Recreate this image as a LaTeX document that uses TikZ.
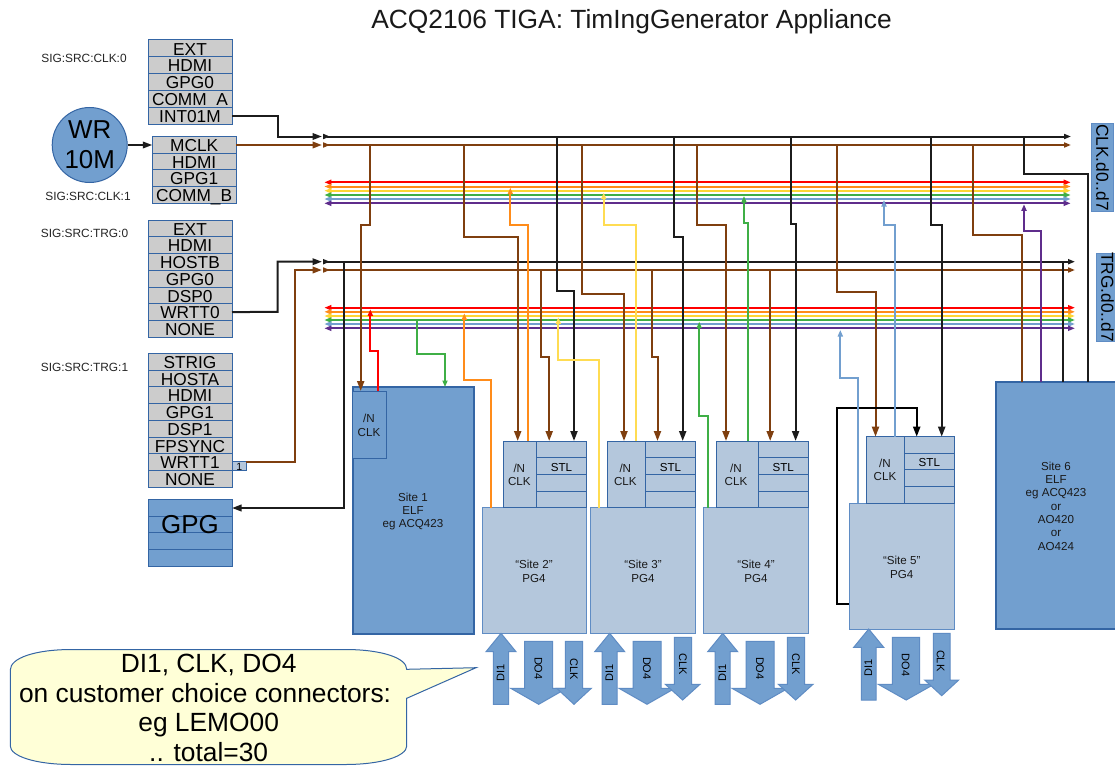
\documentclass[tikz,border=0pt]{standalone}
\usepackage{fontspec}
\setmainfont{Liberation Sans}
\usetikzlibrary{arrows.meta}
\definecolor{boxblue}{HTML}{729FCF}
\definecolor{lineblue}{HTML}{3465A4}
\definecolor{paleblue}{HTML}{B4C7DC}
\definecolor{edgeblue}{HTML}{5F8CC4}
\definecolor{cellgrey}{HTML}{CCCCCC}
\definecolor{noteyellow}{HTML}{FFFFD7}
\definecolor{wbrown}{HTML}{7F3F0F}
\definecolor{wblack}{HTML}{1C1C1C}
\definecolor{wred}{HTML}{FF0000}
\definecolor{worange}{HTML}{FF8C1A}
\definecolor{wyellow}{HTML}{FFD633}
\definecolor{wgreen}{HTML}{3FAF46}
\definecolor{wblue}{HTML}{729FCF}
\definecolor{wpurple}{HTML}{5F2D8C}
\tikzset{
  fbig/.style={font=\fontsize{25.9}{29.6}\selectfont},
  fhead/.style={font=\fontsize{26.35}{29.6}\selectfont},
  fmid/.style={font=\fontsize{17.3}{19.9}\selectfont},
  fsmall/.style={font=\fontsize{11.6}{13.35}\selectfont},
  wire/.style={line width=2pt,line join=miter},
  bigtip/.style={-{Triangle[length=10pt,width=7pt]}},
  smalltip/.style={-{Triangle[length=6.5pt,width=5pt]}},
  feedtip/.style={-{Triangle[length=9.5pt,width=6.5pt]}},
  bustips/.style={{Triangle[reversed,length=7pt,width=5pt]}-{Triangle[length=7pt,width=5pt]}},
  railtips/.style={{Triangle[length=7pt,width=5pt]}-{Triangle[length=7pt,width=5pt]}},
  greycell/.style={draw=lineblue,fill=cellgrey,line width=1pt,inner sep=0pt,outer sep=0pt,fmid,text height=13.5pt,text depth=0pt},
  gpgcell/.style={draw=lineblue,fill=boxblue,line width=1pt,inner sep=0pt,outer sep=0pt},
  palecell/.style={draw=lineblue,fill=paleblue,line width=1pt,inner sep=0pt,outer sep=0pt,fsmall,text height=10.3pt,text depth=0pt},
  paleblock/.style={draw=edgeblue,fill=paleblue,line width=1pt,inner sep=0pt,outer sep=0pt},
  elfblock/.style={draw=lineblue,fill=boxblue,line width=2pt,inner sep=0pt,outer sep=0pt},
  elfcell/.style={draw=lineblue,fill=boxblue,line width=1pt,inner sep=0pt,outer sep=0pt},
  tag/.style={draw=edgeblue,fill=boxblue,line width=1pt,inner sep=0pt,outer sep=0pt},
  ioarrow/.style={draw=edgeblue,fill=boxblue,line width=1pt,line join=miter},
  iotext/.style={inner sep=0pt,font=\fontsize{11}{13}\selectfont},
  sigtext/.style={inner sep=0pt,font=\fontsize{11.9}{13}\selectfont,text=black!85},
  plain/.style={inner sep=0pt,align=center,text=black!90},
}
% box from corner to corner: name, x1, y1, x2, y2, style, text
\newcommand{\cellbox}[7]{%
  \pgfmathsetmacro{\cbw}{#4-#2}\pgfmathsetmacro{\cbh}{#5-#3}%
  \node[#6,minimum width=\cbw pt,minimum height=\cbh pt] (#1) at ({(#2+#4)/2},{(#3+#5)/2}) {#7};}
% column of rows: name, x1, x2, y1, row height, style, list
\newcommand{\rowtable}[7]{%
  \foreach \rowtext [count=\rowi from 0] in {#7}{%
    \pgfmathsetmacro{\rya}{#4+\rowi*#5}\pgfmathsetmacro{\ryb}{#4+(\rowi+1)*#5}%
    \pgfmathtruncatemacro{\rown}{\rowi+1}%
    \cellbox{#1\rown}{#2}{\rya}{#3}{\ryb}{#6}{\rowtext}}}
% block arrow: shaftL shaftR shaft-end head-base headL headR tip
\newcommand{\ioshape}[7]{\draw[ioarrow] (#1,#3) -- (#2,#3) -- (#2,#4) -- (#6,#4) -- ({(#5+#6)/2},#7) -- (#5,#4) -- (#1,#4) -- cycle;}
\begin{document}
\begin{tikzpicture}[x=1pt,y=-1pt]
\useasboundingbox (0,0) rectangle (1115,765);
\fill[white] (0,0) rectangle (1115,765);

\node[fhead,plain] (title) at (631.5,21.5) {ACQ2106 TIGA: TimIngGenerator Appliance};

% source selector tables
\node[sigtext] (lclk0) at (84,58) {SIG:SRC:CLK:0};
\node[sigtext] (lclk1) at (88,196) {SIG:SRC:CLK:1};
\node[sigtext] (ltrg0) at (84.5,233) {SIG:SRC:TRG:0};
\node[sigtext] (ltrg1) at (84.5,367) {SIG:SRC:TRG:1};
\rowtable{clk}{148}{232}{40}{16.8}{greycell}{EXT,HDMI,GPG0,COMM\_A,INT01M}
\rowtable{mc}{152.3}{236}{136.3}{16.75}{greycell}{MCLK,HDMI,GPG1,COMM\_B}
\rowtable{trz}{148}{232}{220}{16.75}{greycell}{EXT,HDMI,HOSTB,GPG0,DSP0,WRTT0,NONE}
\rowtable{tro}{148}{232}{353.3}{16.75}{greycell}{STRIG,HOSTA,HDMI,GPG1,DSP1,FPSYNC,WRTT1,NONE}
\node[circle,draw=lineblue,fill=boxblue,line width=1pt,minimum size=75pt,inner sep=0pt,fbig,align=center] (wr) at (89.7,145) {WR\\10M};
\cellbox{one}{232}{461.3}{246.5}{470.7}{palecell,font=\fontsize{10.5}{12}\selectfont,text height=9.5pt}{1}
\rowtable{gpg}{148}{232}{499.3}{16.8}{gpgcell,text height=0pt}{{},{},{},{}}
\node[fbig,inner sep=0pt] (gpgtext) at (190,524.5) {GPG};

% sites
\cellbox{site1}{352.7}{387.3}{474}{633.5}{elfblock}{}
\cellbox{s1n}{352.7}{391}{386.5}{458}{elfcell}{}
\node[fsmall,plain] (s1nt) at (369,425.5) {/N\\CLK};
\node[fsmall,plain] (s1t) at (413,511.5) {Site 1\\ELF\\eg ACQ423};

\cellbox{site2}{482}{507.7}{586.7}{633.7}{paleblock}{}
\cellbox{site3}{590.3}{507.7}{695.7}{633.7}{paleblock}{}
\cellbox{site4}{703.3}{507.7}{808.3}{633.7}{paleblock}{}
\cellbox{site5}{849.3}{503}{954.3}{629}{paleblock}{}
\node[fsmall,plain] (s2t) at (534,571.5) {“Site 2”\\PG4};
\node[fsmall,plain] (s3t) at (643,571.5) {“Site 3”\\PG4};
\node[fsmall,plain] (s4t) at (756,571.5) {“Site 4”\\PG4};
\node[fsmall,plain] (s5t) at (901.7,567.5) {“Site 5”\\PG4};

\cellbox{s2n}{503}{441}{536.3}{507.7}{palecell}{}
\cellbox{s3n}{607.3}{441}{645.3}{507.7}{palecell}{}
\cellbox{s4n}{716}{441}{758}{507.7}{palecell}{}
\cellbox{s5n}{866.3}{436.7}{904.3}{503}{palecell}{}
\node[fsmall,plain] (s2nt) at (519.3,474.7) {/N\\CLK};
\node[fsmall,plain] (s3nt) at (625.3,474.7) {/N\\CLK};
\node[fsmall,plain] (s4nt) at (736,474.7) {/N\\CLK};
\node[fsmall,plain] (s5nt) at (885,470) {/N\\CLK};
\rowtable{s2r}{536.3}{586.7}{441}{16.7}{palecell}{{},STL,{},{}}
\rowtable{s3r}{645.3}{695.7}{441}{16.7}{palecell}{{},STL,{},{}}
\rowtable{s4r}{758}{808.3}{441}{16.7}{palecell}{{},STL,{},{}}
\rowtable{s5r}{904.3}{954.3}{436.7}{16.6}{palecell}{{},STL,{},{}}

\cellbox{site6}{995.7}{381.7}{1125}{629}{elfblock}{}
\node[fsmall,plain] (s6t) at (1056,506) {Site 6\\ELF\\eg ACQ423\\or\\AO420\\or\\AO424};

% bus labels
\cellbox{clktag}{1091.7}{123.3}{1113.3}{211.7}{tag}{}
\cellbox{trgtag}{1096}{253.3}{1125}{341}{tag}{}
\node[fmid,rotate=-90,inner sep=0pt] (clklab) at (1102.5,167.5) {CLK.d0..d7};
\node[fmid,rotate=-90,inner sep=0pt] (trglab) at (1107.5,297) {TRG.d0..d7};

% coloured rails
\foreach \ca/\yc/\yt/\n in {wred/182.3/307.7/1,worange/186.5/311.8/2,wyellow/190.7/316/3,wgreen/195/320/4,wblue/199/324/5,wpurple/203.3/328.3/6}{
  \coordinate (rcl\n) at (324.3,\yc); \coordinate (rcr\n) at (1070.7,\yc);
  \draw[wire,color=\ca,railtips] (rcl\n) -- (rcr\n);
  \coordinate (rtl\n) at (324.3,\yt); \coordinate (rtr\n) at (1075,\yt);
  \draw[wire,color=\ca,railtips] (rtl\n) -- (rtr\n);
}

% clock and trigger buses
\coordinate (ckl) at (323,136.5); \coordinate (ckr) at (1071,136.5);
\coordinate (cbl) at (323,145);   \coordinate (cbr) at (1071,145);
\coordinate (tkl) at (323,261.7); \coordinate (tkr) at (1075,261.7);
\coordinate (tbl) at (323,270);   \coordinate (tbr) at (1075,270);
\coordinate (ckin) at (322,136.5); \coordinate (cbin) at (322,145);
\coordinate (tkin) at (322,261.7); \coordinate (tbin) at (322,270);
\draw[wire,wblack,bustips] (ckl) -- (ckr);
\draw[wire,wbrown,bustips] (cbl) -- (cbr);
\draw[wire,wblack,bustips] (tkl) -- (tkr);
\draw[wire,wbrown,bustips] (tbl) -- (tbr);

% feeds into the buses
\draw[wire,wblack,feedtip] (wr.east) -- (wr.east -| mc1.west);
\draw[wire,wblack,feedtip] (clk5.east) -- (277.5,115.6) -- (277.5,136.5) -- (ckin);
\draw[wire,wbrown,feedtip] (mc1.east |- cbin) -- (cbin);
\draw[wire,wblack,feedtip] (trz6.east) -- (277.5,311.8) -- (277.5,261.7) -- (tkin);
\coordinate (oneo) at (246,462.3);
\draw[wire,wbrown,feedtip] (oneo) -- (294.7,462.3) -- (294.7,270) -- (tbin);
\coordinate (gpgfrom) at (344.3,261.7); \coordinate (gpgto) at (232,508);
\draw[wire,wblack,feedtip] (gpgfrom) -- (344.3,508) -- (gpgto);

% brown taps
\coordinate (b1a) at (370.3,145); \coordinate (b1b) at (360.7,391);
\draw[wire,wbrown,bigtip] (b1a) -- (370.3,225) -- (360.7,225) -- (b1b);
\coordinate (b2a) at (463.7,145); \coordinate (b2b) at (517.7,441);
\draw[wire,wbrown,bigtip] (b2a) -- (463.7,237.3) -- (517.7,237.3) -- (b2b);
\coordinate (b3a) at (540.7,270); \coordinate (b3b) at (549.2,441);
\draw[wire,wbrown,bigtip] (b3a) -- (540.7,357) -- (549.2,357) -- (b3b);
\coordinate (b4a) at (582.3,145); \coordinate (b4b) at (624,441);
\draw[wire,wbrown,bigtip] (b4a) -- (582.3,294) -- (624,294) -- (b4b);
\coordinate (b5a) at (652.3,270); \coordinate (b5b) at (657.5,441);
\draw[wire,wbrown,bigtip] (b5a) -- (652.3,357) -- (657.5,357) -- (b5b);
\coordinate (b6a) at (697.3,145); \coordinate (b6b) at (726,441);
\draw[wire,wbrown,bigtip] (b6a) -- (697.3,225) -- (726,225) -- (b6b);
\coordinate (b7a) at (770.2,270); \coordinate (b7b) at (770.2,441);
\draw[wire,wbrown,bigtip] (b7a) -- (b7b);
\coordinate (b8a) at (837.3,145); \coordinate (b8b) at (875.5,436.7);
\draw[wire,wbrown,bigtip] (b8a) -- (837.3,292) -- (875.5,292) -- (b8b);
\coordinate (b9a) at (973,145); \coordinate (b9b) at (1021.7,381.7);
\draw[wire,wbrown] (b9a) -- (973,235.3) -- (1021.7,235.3) -- (b9b);

% black taps
\coordinate (k1a) at (557.3,136.5); \coordinate (k1b) at (574,441);
\draw[wire,wblack,bigtip] (k1a) -- (557.3,291) -- (574,291) -- (k1b);
\coordinate (k2a) at (674.3,136.5); \coordinate (k2b) at (682.7,441);
\draw[wire,wblack,bigtip] (k2a) -- (674.3,236.7) -- (682.7,236.7) -- (k2b);
\coordinate (k3a) at (790.7,136.5); \coordinate (k3b) at (795.6,441);
\draw[wire,wblack,bigtip] (k3a) -- (790.7,224) -- (795.6,224) -- (k3b);
\coordinate (k4a) at (931,136.5); \coordinate (k4b) at (941.7,436.7);
\draw[wire,wblack,bigtip] (k4a) -- (931,225) -- (941.7,225) -- (k4b);
\coordinate (k5a) at (1024.3,136.5); \coordinate (k5b) at (1088,381.7);
\draw[wire,wblack] (k5a) -- (1024.3,174) -- (1088,174) -- (k5b);
\coordinate (k6a) at (1062.7,261.7); \coordinate (k6b) at (1062.7,381.7);
\draw[wire,wblack] (k6a) -- (k6b);
\coordinate (kla) at (849.3,603.7); \coordinate (klb) at (916.7,436.7);
\draw[wire,black,bigtip] (kla) -- (837.3,603.7) -- (837.3,407.7) -- (916.7,407.7) -- (klb);

% coloured drivers
\coordinate (ra) at (378.3,391); \coordinate (rb) at (370.3,309.3);
\draw[wire,wred,smalltip] (ra) -- (378.3,350.7) -- (370.3,350.7) -- (rb);
\coordinate (ga) at (417.3,320); \coordinate (gb) at (445,387);
\draw[wire,wgreen,smalltip] (ga) -- (417.3,354.3) -- (445,354.3) -- (gb);
\coordinate (o1a) at (490.7,507.7); \coordinate (o1b) at (464.3,313.3);
\draw[wire,worange,smalltip] (o1a) -- (490.7,380) -- (464.3,380) -- (o1b);
\coordinate (o2a) at (528.3,441); \coordinate (o2b) at (510.3,187.7);
\draw[wire,worange,smalltip] (o2a) -- (528.3,225) -- (510.3,225) -- (o2b);
\coordinate (y1a) at (599,507.7); \coordinate (y1b) at (558.3,317.3);
\draw[wire,wyellow!85!white,smalltip] (y1a) -- (599,360.3) -- (558.3,360.3) -- (y1b);
\coordinate (y2a) at (636,441); \coordinate (y2b) at (603.7,192.7);
\draw[wire,wyellow!85!white,smalltip] (y2a) -- (636,225) -- (603.7,225) -- (y2b);
\coordinate (g2a) at (748,441); \coordinate (g2b) at (744,196);
\draw[wire,wgreen,smalltip] (g2a) -- (748,223) -- (744,223) -- (g2b);
\coordinate (g3a) at (707.7,507.7); \coordinate (g3b) at (699.2,321.7);
\draw[wire,wgreen,smalltip] (g3a) -- (707.7,415.7) -- (699.2,415.7) -- (g3b);
\coordinate (u1a) at (858,503); \coordinate (u1b) at (840.3,330);
\draw[wire,wblue,smalltip] (u1a) -- (858,378.3) -- (840.3,378.3) -- (u1b);
\coordinate (u2a) at (895,436.7); \coordinate (u2b) at (884,200);
\draw[wire,wblue,smalltip] (u2a) -- (895,225) -- (884,225) -- (u2b);
\coordinate (pa) at (1041.3,381.7); \coordinate (pb) at (1024,204.3);
\draw[wire,wpurple,smalltip] (pa) -- (1041.3,231.3) -- (1024,231.3) -- (pb);

% front panel I/O arrows
\ioshape{493.3}{508.7}{704.3}{651.7}{486}{516}{633.3}
\ioshape{524.7}{552.7}{641.3}{688.3}{510.7}{566.7}{704.3}
\ioshape{565.3}{582.7}{641.3}{688.3}{556.7}{591.3}{704.3}
\ioshape{602}{617}{704.3}{651.7}{594.7}{624.7}{633.3}
\ioshape{633}{661}{641.3}{688.3}{619}{675}{704.3}
\ioshape{674.3}{691.7}{637.3}{684.3}{665.3}{700}{700}
\ioshape{715}{730}{704.3}{651.7}{707.7}{737.7}{633.3}
\ioshape{746}{774}{641.3}{688.3}{732}{788}{704.3}
\ioshape{787.3}{804.7}{637.3}{684.3}{778.3}{813}{700}
\ioshape{861.3}{876}{700}{647.3}{853.7}{883.7}{629}
\ioshape{892.3}{919.7}{637.3}{684.3}{878.3}{934}{700}
\ioshape{933.3}{950}{633.3}{680}{924.7}{958.7}{695.7}
\foreach \xa/\xb/\xc/\yc/\n in {500.7/538.3/574/669.3/2,609.3/647/683/664.3/3,722.3/760/796/664.3/4}{
  \node[iotext,rotate=90] (di\n) at (\xa,673.3) {DI1};
  \node[iotext,rotate=-90] (do\n) at (\xb,668.3) {DO4};
  \node[iotext,rotate=-90] (ck\n) at (\xc,\yc) {CLK};
}
\node[iotext,rotate=90] (di5) at (868.3,668) {DI1};
\node[iotext,rotate=-90] (do5) at (905.7,665) {DO4};
\node[iotext,rotate=-90] (ck5) at (940.7,660.7) {CLK};

% callout
\draw[draw=lineblue,fill=noteyellow,line width=1pt,line join=miter]
  (10.3,670) .. controls (10.3,658) and (35,649.5) .. (72,649.5) -- (345,649.5)
  .. controls (382,649.5) and (406.7,658) .. (406.7,669.3) -- (476,667.7) -- (406.7,698.3) -- (406.7,746)
  .. controls (406.7,756) and (382,764.5) .. (345,764.5) -- (72,764.5)
  .. controls (35,764.5) and (10.3,756) .. (10.3,746) -- cycle;
\node[fhead,plain,text=black] (note) at (208.7,708) {DI1, CLK, DO4\\on customer choice connectors:\hspace*{7.3pt}\mbox{}\\eg LEMO00\\.. total=30};
\end{tikzpicture}
\end{document}
